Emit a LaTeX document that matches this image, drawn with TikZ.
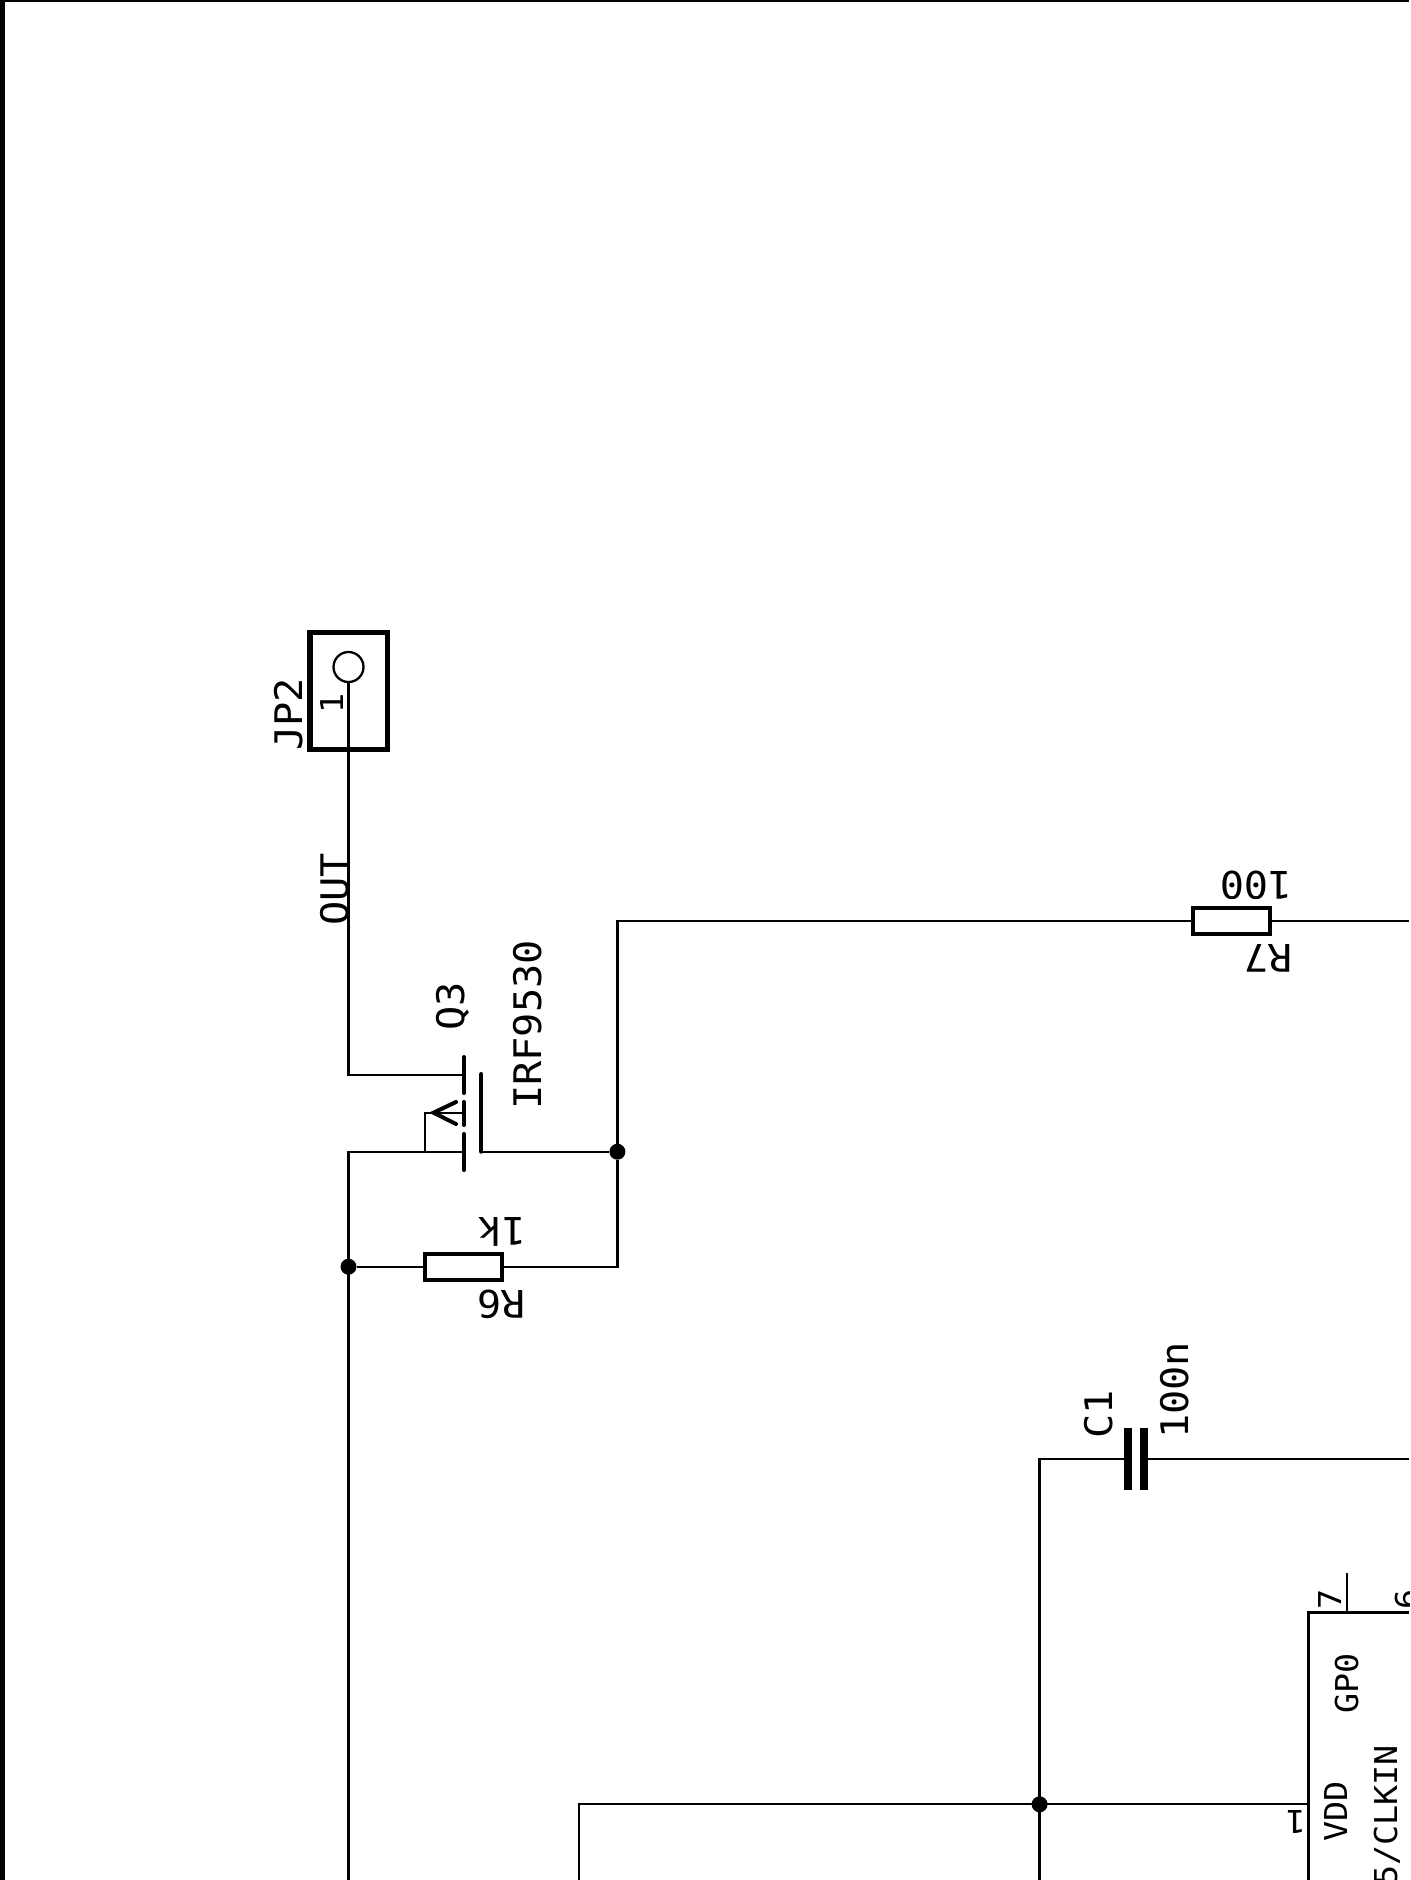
\documentclass[tikz,border=0pt]{standalone}
\usepackage{fontspec}
\setmonofont[FakeStretch=1.06]{DejaVu Sans Mono}
\usetikzlibrary{positioning}
\tikzset{
	wire/.style={line width=2.3pt,black},
	thickwire/.style={line width=3.8pt,black},
	plate/.style={line width=4pt,black,line cap=round},
	framewire/.style={black},
	resistor/.style={draw,line width=3.9pt,rectangle,inner sep=0pt,outer sep=0pt,minimum width=77pt,minimum height=26pt},
	junction/.style={circle,fill=black,inner sep=0pt,outer sep=0pt,minimum size=16pt},
	bigtext/.style={font=\ttfamily\fontsize{38}{38}\selectfont,inner sep=0pt,anchor=base west},
	smalltext/.style={font=\ttfamily\fontsize{31.5}{32}\selectfont,inner sep=0pt,anchor=base west},
}
\begin{document}
\begin{tikzpicture}[x=1pt,y=-1pt]
	\useasboundingbox (0,0) rectangle (1411,1880);
	\clip (0,0) rectangle (1409,1880);
	\draw[framewire,line width=5pt] (2.5,0) -- (2.5,1880);
	\draw[framewire,line width=2.5pt] (0,1.2) -- (1409,1.2);

	% wire ends and corners
	\coordinate (botS) at (348.5,1880);
	\coordinate (botV) at (579,1880);
	\coordinate (botC) at (1039.6,1880);
	\coordinate (rightG) at (1409,921);
	\coordinate (rightC) at (1409,1458.8);
	\coordinate (pinA) at (1347,1573);
	\coordinate (pinB) at (1347,1612.5);

	\node[draw,line width=5.8pt,rectangle,inner sep=0pt,outer sep=0pt,minimum width=77.5pt,minimum height=117pt] (JP2) at (348.7,691) {};
	\node[draw,line width=2.3pt,circle,inner sep=0pt,outer sep=0pt,minimum size=30pt] (pad) at (348.5,667) {};

	\node[resistor] (R6) at (463.2,1266.7) {};
	\node[resistor] (R7) at (1231.8,921) {};
	\node[junction] (nodeS) at (348.5,1266.7) {};
	\node[junction] (nodeG) at (617.4,1151.7) {};
	\node[junction] (nodeV) at (1039.6,1804.3) {};

	% Q3
	\coordinate (drain) at (463.8,1075);
	\coordinate (source) at (463.8,1151.7);
	\coordinate (bulk) at (463.8,1112.7);
	\coordinate (gate) at (481.3,1151.7);
	\foreach \a/\b in {1057/1093, 1102/1125, 1134/1170}
		\draw[plate] (463.8,\a) -- (463.8,\b);
	\draw[plate] (481.3,1074) -- (gate);
	\draw[plate] (456,1102) -- (433.5,1112.7) -- (456,1124);
	\draw[wire] (bulk) -- (425,1112.7) |- (source);

	\draw[wire] (pad.south) |- (drain);
	\draw[wire] (source) -| (botS);
	\draw[wire] (nodeS) -- (R6.west);
	\draw[wire] (R6.east) -| (nodeG);
	\draw[wire] (gate) -- (nodeG);
	\draw[wire] (nodeG) |- (R7.west);
	\draw[wire] (R7.east) -- (rightG);

	% C1
	\node[inner sep=0pt,outer sep=0pt,minimum width=24.5pt,minimum height=62pt] (C1) at (1136,1458.8) {};
	\foreach \x in {1127.8, 1144}
		\draw[black,line width=8.4pt] (\x,1427.8) -- (\x,1489.8);
	\draw[wire] (C1.west) -| (botC);
	\draw[wire] (C1.east) -- (rightC);

	% U1 outline and pins
	\coordinate (icBot) at (1308.5,1880);
	\coordinate (icRight) at (1409,1612.5);
	\draw[thickwire] (icRight) -- (1308.5,1612.5) -- (icBot);
	\draw[wire] (pinA) -- (pinB);
	\draw[wire] (botV) |- (1308.5,1804.3);

	\node[bigtext,rotate=90] (JP2name) at (302,751) {JP2};
	\node[smalltext,rotate=90] (JP2pin) at (343,714) {1};
	\node[bigtext,rotate=90] (OUTname) at (348,926) {OUT};
	\node[bigtext,rotate=90] (Q3name) at (464,1031) {Q3};
	\node[bigtext,rotate=90] (Q3value) at (541,1110) {IRF9530};
	\node[bigtext,rotate=180] (R6value) at (527,1217) {1k};
	\node[bigtext,rotate=180] (R6name) at (526,1290) {R6};
	\node[bigtext,rotate=180] (R7value) at (1293,871) {100};
	\node[bigtext,rotate=180] (R7name) at (1293,944) {R7};
	\node[bigtext,rotate=90] (C1name) at (1112,1439) {C1};
	\node[bigtext,rotate=90] (C1value) at (1188,1439) {100n};
	\node[smalltext,rotate=90] (pin7) at (1341,1610) {7};
	\node[smalltext,rotate=90] (pin6) at (1418,1610) {6};
	\node[smalltext,rotate=180] (pin1) at (1306,1810) {1};
	\node[smalltext,rotate=90] (GP0name) at (1358,1714) {GP0};
	\node[smalltext,rotate=90] (VDDname) at (1347,1842) {VDD};
	\node[smalltext,rotate=90] (CLKname) at (1397,1886) {5/CLKIN};
\end{tikzpicture}
\end{document}
